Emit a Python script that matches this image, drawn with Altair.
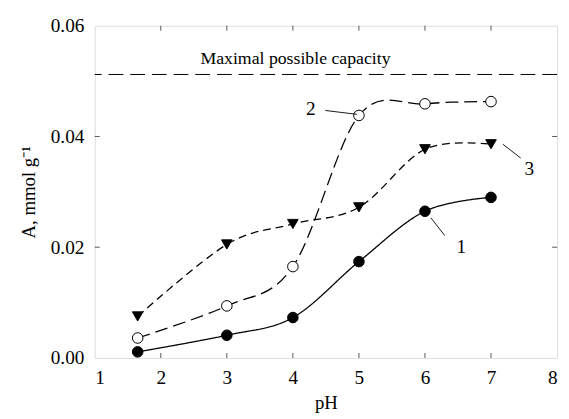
import altair as alt
import pandas as pd

ph = [1.65, 3, 4, 5, 6, 7]
s1 = [0.0011, 0.0041, 0.0073, 0.0174, 0.0265, 0.0290]
s2 = [0.0036, 0.0094, 0.0165, 0.0438, 0.0459, 0.0463]
s3 = [0.0075, 0.0205, 0.0242, 0.0272, 0.0377, 0.0386]
max_capacity = 0.0512
x_ticks = [2, 3, 4, 5, 6, 7]
y_ticks = [0.02, 0.04]

FONT = "Liberation Serif"
W, H = 469, 337

xs = alt.Scale(domain=[1, 8], nice=False, zero=False)
ys = alt.Scale(domain=[0, 0.06], nice=False)
xax = alt.Axis(values=[1, 2, 3, 4, 5, 6, 7, 8], format="d", title="pH", tickSize=0,
               domain=False, grid=False, labelFont=FONT, labelFontSize=19.5, labelColor="black",
               labelPadding=11, titleFont=FONT, titleFontSize=19, titleFontWeight="normal",
               titleColor="black", titlePadding=7)
yax = alt.Axis(values=[0, 0.02, 0.04, 0.06], format=".2f", title="A, mmol g\u207b\u00b9", tickSize=0,
               domain=False, grid=False, labelFont=FONT, labelFontSize=19.5, labelColor="black",
               labelPadding=11, titleFont=FONT, titleFontSize=19, titleFontWeight="normal",
               titleColor="black", titlePadding=12)

def series_layers(vals, dash, fill, shape):
    df = pd.DataFrame({"ph": ph, "A": vals})
    base = alt.Chart(df)
    line = base.mark_line(color="black", strokeWidth=1.3, strokeDash=dash,
                          interpolate="cardinal").encode(
        x=alt.X("ph:Q", scale=xs, axis=xax), y=alt.Y("A:Q", scale=ys, axis=yax))
    pts = base.mark_point(shape=shape, size=115, filled=True, fill=fill, stroke="black",
                          strokeWidth=1, opacity=1).encode(
        x=alt.X("ph:Q", scale=xs), y=alt.Y("A:Q", scale=ys))
    return [line, pts]

layers = []
layers += series_layers(s1, [1, 0], "black", "circle")
layers += series_layers(s2, [13, 6], "white", "circle")
layers += series_layers(s3, [8, 5], "black", "triangle-down")

maxdf = pd.DataFrame({"y": [max_capacity]})
layers.append(alt.Chart(maxdf).mark_rule(color="black", strokeWidth=1, strokeDash=[15, 7]).encode(
    y=alt.Y("y:Q", scale=ys)))

txt = pd.DataFrame({"ph": [2.6], "A": [0.0539], "t": ["Maximal possible capacity"]})
layers.append(alt.Chart(txt).mark_text(font=FONT, fontSize=18, align="left", baseline="middle",
                                       color="black").encode(
    x=alt.X("ph:Q", scale=xs), y=alt.Y("A:Q", scale=ys), text="t:N"))

labels = pd.DataFrame({"ph": [4.27, 7.58, 6.55], "A": [0.0450, 0.0342, 0.0201], "t": ["2", "3", "1"]})
layers.append(alt.Chart(labels).mark_text(font=FONT, fontSize=19.5, align="center", baseline="middle",
                                          color="black").encode(
    x=alt.X("ph:Q", scale=xs), y=alt.Y("A:Q", scale=ys), text="t:N"))

leaders = pd.DataFrame({"x": [4.49, 7.18, 6.09], "y": [0.0447, 0.0386, 0.0253],
                        "x2": [4.97, 7.45, 6.30], "y2": [0.0440, 0.0361, 0.0221]})
layers.append(alt.Chart(leaders).mark_rule(color="black", strokeWidth=0.9).encode(
    x=alt.X("x:Q", scale=xs), y=alt.Y("y:Q", scale=ys), x2="x2:Q", y2="y2:Q"))

xt = pd.DataFrame({"t": x_ticks})
yt = pd.DataFrame({"t": y_ticks})
tc = "#555555"
layers.append(alt.Chart(xt).mark_rule(color=tc).encode(
    x=alt.X("t:Q", scale=xs), y=alt.value(H), y2=alt.value(H - 5)))
layers.append(alt.Chart(xt).mark_rule(color=tc).encode(
    x=alt.X("t:Q", scale=xs), y=alt.value(0), y2=alt.value(5)))
layers.append(alt.Chart(yt).mark_rule(color=tc).encode(
    y=alt.Y("t:Q", scale=ys), x=alt.value(0), x2=alt.value(5)))
layers.append(alt.Chart(yt).mark_rule(color=tc).encode(
    y=alt.Y("t:Q", scale=ys), x=alt.value(W), x2=alt.value(W - 5)))

chart = alt.layer(*layers).properties(
    width=W, height=H,
    autosize=alt.AutoSizeParams(type="none"),
    padding={"left": 88, "top": 15, "right": 4, "bottom": 64},
).configure_view(stroke=tc, strokeWidth=1.3).configure(background="white")

chart.save("out.html", embed_options={"renderer": "svg", "actions": False})
